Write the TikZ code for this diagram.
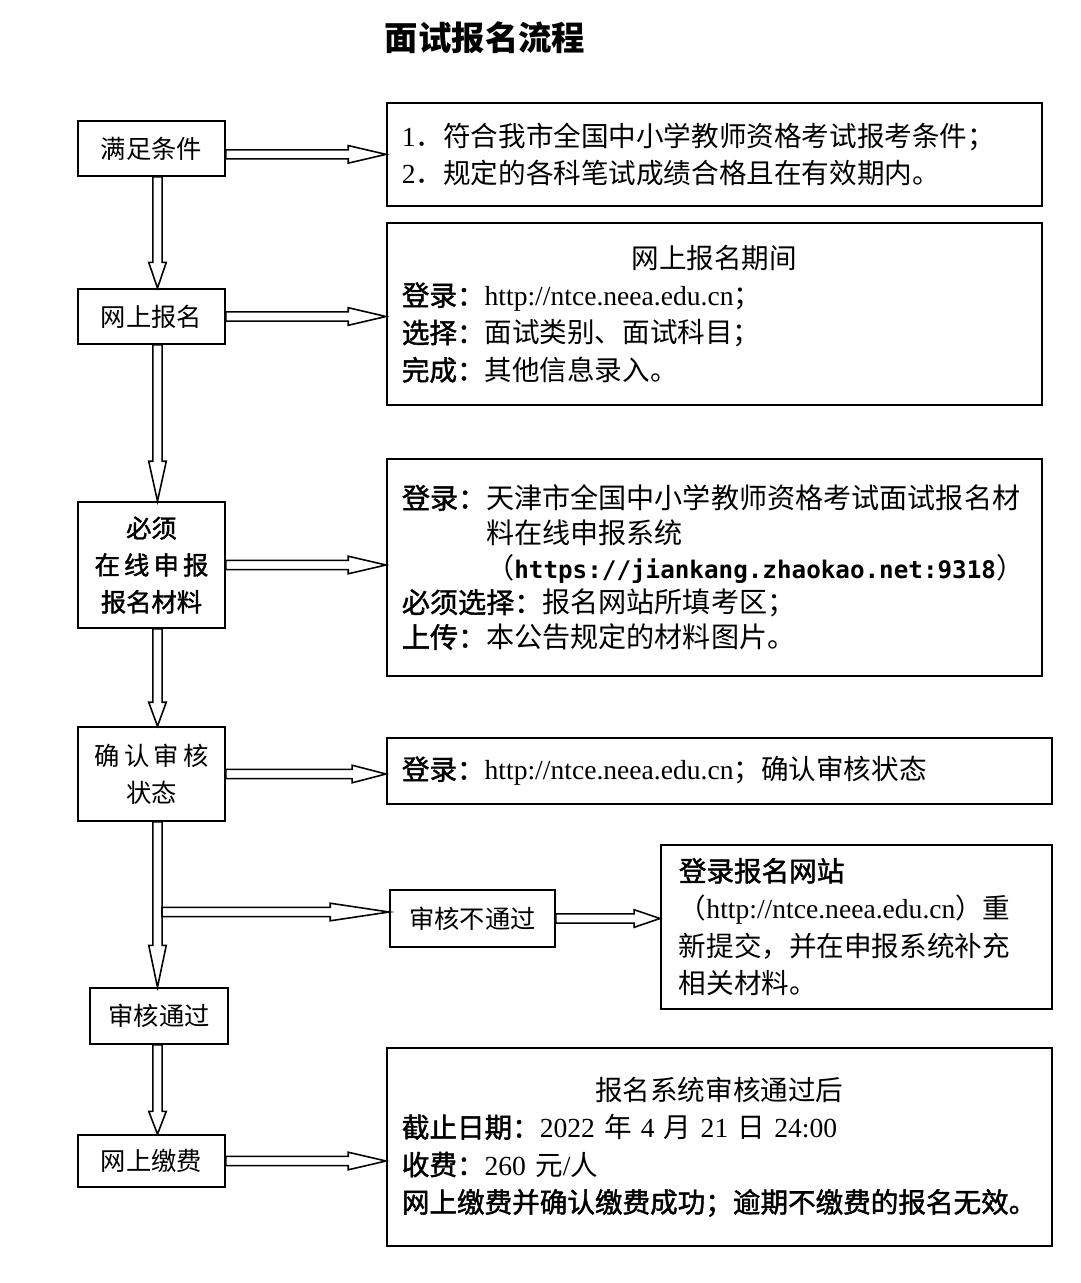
\documentclass[tikz,border=0pt]{standalone}
\usepackage{fontspec}
\setmainfont{Noto Sans CJK SC}[BoldFont={Noto Sans CJK SC}, BoldFeatures={FakeBold=1.6}]
\newfontfamily\titlefont{Noto Sans CJK SC}
\newfontfamily\latinfont{Liberation Serif}
\newfontfamily\monofont{DejaVu Sans Mono}
\usetikzlibrary{calc, positioning}
\newcommand{\site}[1]{{\latinfont #1}}

\begin{document}
\begin{tikzpicture}[
  x=0.02cm, y=-0.02cm,
  lbox/.style   = {draw, line width=1pt, minimum width=2.94cm, align=center, inner sep=2pt, font=\fontsize{14.4}{21}\selectfont},
  rbox/.style   = {draw, line width=1pt, anchor=north west, align=left, inner xsep=0.3cm, text width=12.5cm, font=\fontsize{15.7}{21.3}\selectfont},
  hollow/.style = {draw, line width=0.9pt, to path={
      ($(\tikztostart)!2.6pt!90:(\tikztotarget)$)
      -- ($(\tikztotarget)!#1!(\tikztostart)!2.6pt!-90:(\tikztostart)$)
      -- ($(\tikztotarget)!#1!(\tikztostart)!5pt!-90:(\tikztostart)$)
      -- (\tikztotarget)
      -- ($(\tikztotarget)!#1!(\tikztostart)!5pt!90:(\tikztostart)$)
      -- ($(\tikztotarget)!#1!(\tikztostart)!2.6pt!90:(\tikztostart)$)
      -- ($(\tikztostart)!2.6pt!-90:(\tikztotarget)$)
      -- cycle}},
  hollow/.default = 21.5pt,
]
\useasboundingbox (0,0) rectangle (1080,1283);
%%--- Title ---
\node[font=\fontsize{19}{23}\selectfont\titlefont\bfseries] (title) at (485,38) {面试报名流程};
%%--- Left column: steps ---
\node[lbox, minimum height=1.1cm]  (cond)   at (151.5,148.5) {满足条件};
\node[lbox, minimum height=1.1cm]  (apply)  at (151.5,316.5) {网上报名};
\node[lbox, minimum height=2.52cm, font=\fontsize{14.4}{21}\selectfont\bfseries] (upload) at (151.5,565) {必须\\在\,线\,申\,报\\报名材料};
\node[lbox, minimum height=1.88cm] (status) at (151.5,774) {确\,认\,审\,核\\状态};
\node[lbox, minimum width=2.76cm, minimum height=1.12cm] (pass) at (159,1016) {审核通过};
\node[lbox, minimum height=1.04cm] (pay)    at (151.5,1161) {网上缴费};
\node[lbox, minimum width=3.3cm, minimum height=1.14cm] (fail) at (472.5,918.5) {审核不通过};
%%--- Right column: details ---
\node[rbox, minimum height=2.06cm] (rcond) at (386,102) {\site{1}．符合我市全国中小学教师资格考试报考条件；\\\site{2}．规定的各科笔试成绩合格且在有效期内。};
\node[rbox, minimum height=3.64cm] (rapply) at (386,222) {\makebox[\hsize]{网上报名期间}\\
  \textbf{登录：}\site{http://ntce.neea.edu.cn}；\\
  \textbf{选择：}面试类别、面试科目；\\
  \textbf{完成：}其他信息录入。};
\node[rbox, minimum height=4.34cm, font=\fontsize{16}{19.8}\selectfont] (rupload) at (386,458) {\textbf{登录：}天津市全国中小学教师资格考试面试报名材\\
  \phantom{\textbf{登录：}}料在线申报系统\\
  \phantom{\textbf{登录：}}（{\monofont\bfseries\fontsize{13.8}{19.8}\selectfont https://jiankang.zhaokao.net:9318}）\\
  \textbf{必须选择：}报名网站所填考区；\\
  \textbf{上传：}本公告规定的材料图片。};
\node[rbox, text width=12.7cm, minimum height=1.32cm] (rstatus) at (386,737) {\textbf{登录：}\site{http://ntce.neea.edu.cn}；确认审核状态};
\node[rbox, inner xsep=0.36cm, text width=7.1cm, minimum height=3.28cm] (rfail) at (660,844) {\textbf{登录报名网站}\\
  （\site{http://ntce.neea.edu.cn}）重\\
  新提交，并在申报系统补充\\
  相关材料。};
\node[rbox, text width=12.7cm, minimum height=3.96cm] (rpay) at (386,1047) {\makebox[\hsize]{报名系统审核通过后}\\
  \textbf{截止日期：}\site{2022 }年\site{ 4 }月\site{ 21 }日\site{ 24:00}\\
  \textbf{收费：}\site{260 }元\site{/}人\\
  \textbf{网上缴费并确认缴费成功；逾期不缴费的报名无效。}};
%%--- Arrows down the column ---
\coordinate (col) at (157.5,0);
\draw[hollow=14.7pt] (cond.south -| col)   to (apply.north -| col);
\draw[hollow=22.7pt] (apply.south -| col)  to (upload.north -| col);
\draw[hollow=13.6pt] (upload.south -| col) to (status.north -| col);
\draw[hollow=23.8pt] (status.south -| col) to (pass.north -| col);
\draw[hollow=13pt]   (pass.south -| col)   to (pay.north -| col);
%%--- Arrows to the details ---
\draw[hollow] (cond.east |- rcond.west) to (rcond.west);
\draw[hollow] (apply.east) to (apply.east -| rapply.west);
\draw[hollow] (upload.east) to (upload.east -| rupload.west);
\draw[hollow=19.3pt] (status.east) to (status.east -| rstatus.west);
\draw[hollow] (pay.east) to (pay.east -| rpay.west);
%%--- Branch: review failed ---
\coordinate (fork) at (162,912);
\draw[hollow=33.5pt] (fork) to (fork -| fail.west);
\draw[hollow=14.7pt] (fail.east) to (fail.east -| rfail.west);
\end{tikzpicture}
\end{document}
